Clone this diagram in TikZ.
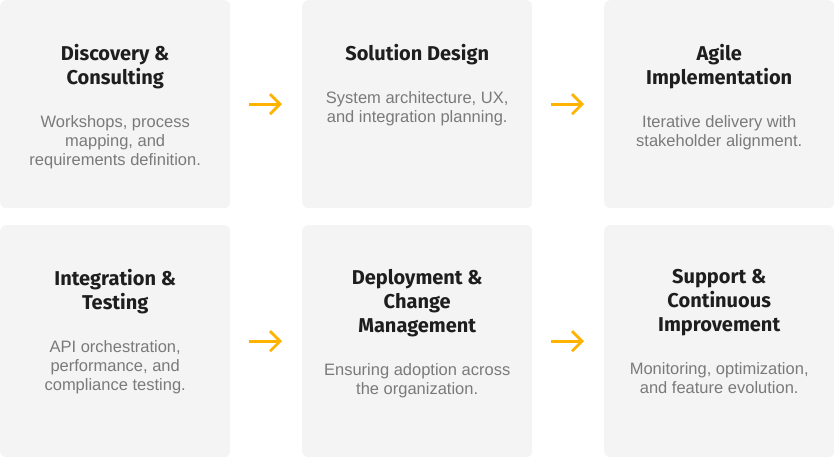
\documentclass[tikz,border=0pt]{standalone}
\usepackage{fontspec}
\setmainfont{Liberation Sans}
\newfontfamily\headfont{Fira Sans}
\usetikzlibrary{arrows.meta, positioning}
\definecolor{cardgray}{HTML}{F4F4F4}
\definecolor{headcol}{HTML}{1E1E1E}
\definecolor{blurbcol}{HTML}{7A7A7A}
\definecolor{flowcol}{HTML}{FFB300}

\begin{document}
\begin{tikzpicture}[x=1pt,y=1pt]
  \tikzstyle{card}=[fill=cardgray,rounded corners=6pt,minimum width=230pt,anchor=north west,inner sep=0pt]
  \tikzstyle{heading}=[font=\headfont\bfseries\fontsize{20}{24}\selectfont,text=headcol,align=center,inner sep=0pt]
  \tikzstyle{blurb}=[font=\fontsize{16.5}{19}\selectfont,text=blurbcol,align=center,inner sep=0pt]
  \tikzstyle{flow}=[draw=flowcol,line width=2.8pt,-{Straight Barb[length=10pt,width=20pt]},shorten <=19pt,shorten >=20pt]

  \useasboundingbox (0,0) rectangle (834,-458);

  % top row
  \node[card,minimum height=208pt] (disc)  at (0,0)   {};
  \node[card,minimum height=208pt] (sol)   at (302,0) {};
  \node[card,minimum height=208pt] (agile) at (604,0) {};

  % bottom row
  \node[card,minimum height=232pt] (integ)   at (0,-225)   {};
  \node[card,minimum height=232pt] (deploy)  at (302,-225) {};
  \node[card,minimum height=232pt] (support) at (604,-225) {};

  \node[heading] (disc-t)    [below=44pt of disc.north]    {Discovery \&\\Consulting};
  \node[heading] (sol-t)     [below=44pt of sol.north]     {Solution Design};
  \node[heading] (agile-t)   [below=44pt of agile.north]   {Agile\\Implementation};
  \node[heading] (integ-t)   [below=44pt of integ.north]   {Integration \&\\Testing};
  \node[heading] (deploy-t)  [below=44pt of deploy.north]  {Deployment \&\\Change\\Management};
  \node[heading] (support-t) [below=44pt of support.north] {Support \&\\Continuous\\Improvement};

  \node[blurb] (disc-b)    [below=26pt of disc-t]    {Workshops, process\\mapping, and\\requirements definition.};
  \node[blurb] (sol-b)     [below=26pt of sol-t]     {System architecture, UX,\\and integration planning.};
  \node[blurb] (agile-b)   [below=26pt of agile-t]   {Iterative delivery with\\stakeholder alignment.};
  \node[blurb] (integ-b)   [below=26pt of integ-t]   {API orchestration,\\performance, and\\compliance testing.};
  \node[blurb] (deploy-b)  [below=26pt of deploy-t]  {Ensuring adoption across\\the organization.};
  \node[blurb] (support-b) [below=26pt of support-t] {Monitoring, optimization,\\and feature evolution.};

  \path[flow]
  (disc)  edge (sol)
  (sol)   edge (agile)
  (integ) edge (deploy)
  (deploy) edge (support)
  ;
\end{tikzpicture}
\end{document}
